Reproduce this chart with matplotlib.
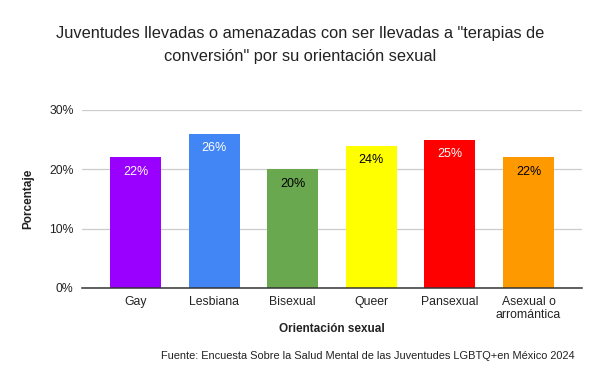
import numpy as np
import matplotlib.pyplot as plt
from matplotlib.ticker import FuncFormatter

categorias = ['Gay', 'Lesbiana', 'Bisexual', 'Queer', 'Pansexual', 'Asexual o\narromántica']
porcentajes = [22, 26, 20, 24, 25, 22]
colores = ['#9900ff', '#4285f4', '#6aa84f', '#ffff00', '#ff0000', '#ff9900']
color_etiqueta = ['white', 'white', 'black', 'black', 'white', 'black']

plt.rcParams['font.family'] = ['Liberation Sans', 'DejaVu Sans']

fig = plt.figure(figsize=(6, 3.71), dpi=100)
ax = fig.add_axes([82 / 600, 1 - 288 / 371, 500 / 600, 178 / 371])

x = np.arange(len(categorias))
barras = ax.bar(x, porcentajes, width=0.65, color=colores, zorder=3)

for b, v, c in zip(barras, porcentajes, color_etiqueta):
    ax.annotate('{}%'.format(v), (b.get_x() + b.get_width() / 2, v),
                xytext=(0, -6), textcoords='offset points',
                ha='center', va='top', fontsize=9, color=c, zorder=4)

ax.set_xlim(-0.68, 5.68)
ax.set_ylim(0, 30)
ax.set_yticks([0, 10, 20, 30])
ax.yaxis.set_major_formatter(FuncFormatter(lambda v, p: '{:.0f}%'.format(v)))
ax.set_xticks(x)
ax.set_xticklabels(categorias, fontsize=8.8, color='#222222', linespacing=1.1)
ax.tick_params(axis='y', labelsize=8.8, labelcolor='#222222', length=0, pad=6)
ax.tick_params(axis='x', length=0, pad=6)
ax.grid(axis='y', color='#cccccc', linewidth=0.9, zorder=0)
for s in ['top', 'right', 'left']:
    ax.spines[s].set_visible(False)
ax.spines['bottom'].set_color('#333333')
ax.spines['bottom'].set_linewidth(1.1)
ax.spines['bottom'].set_zorder(5)

ax.set_xlabel('Orientación sexual', fontsize=8.5, fontweight='bold', color='#222222', labelpad=1)
ax.set_ylabel('Porcentaje', fontsize=8.5, fontweight='bold', color='#222222', labelpad=11)

fig.text(0.5, 1 - 45 / 371, 'Juventudes llevadas o amenazadas con ser llevadas a "terapias de\nconversión" por su orientación sexual',
         ha='center', va='center', fontsize=11.8, color='#222222', linespacing=1.6)
fig.text(575 / 600, 1 - 356 / 371, 'Fuente: Encuesta Sobre la Salud Mental de las Juventudes LGBTQ+en México 2024',
         ha='right', va='center', fontsize=7.9, color='#222222')

fig.savefig('out.png', dpi=100)
